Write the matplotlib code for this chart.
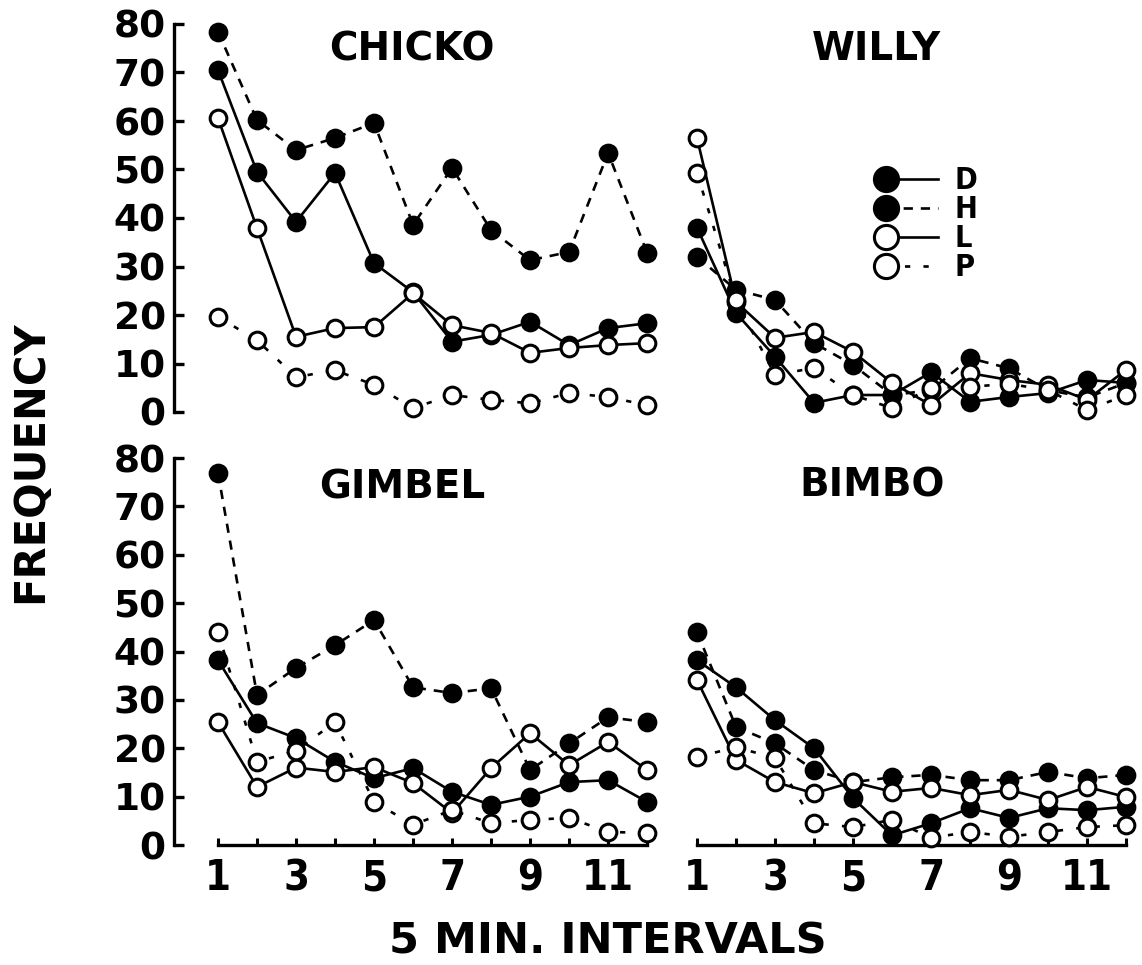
import matplotlib

matplotlib.use("Agg")
import matplotlib.pyplot as plt
import numpy as np
from matplotlib.legend_handler import HandlerLine2D

intervals = np.arange(1, 13)
x_tick_labels = ["1", "", "3", "", "5", "", "7", "", "9", "", "11", ""]
y_ticks = [0, 10, 20, 30, 40, 50, 60, 70, 80]

# values (frequency per 5 min interval)
chicko_D = [70.5, 49.5, 39.2, 49.3, 30.7, 24.7, 14.5, 15.9, 18.6, 13.8, 17.3, 18.3]
chicko_H = [78.4, 60.2, 54.0, 56.5, 59.6, 38.6, 50.3, 37.5, 31.3, 33.0, 53.4, 32.8]
chicko_L = [60.6, 37.9, 15.5, 17.3, 17.5, 24.5, 17.9, 16.3, 12.2, 13.2, 13.8, 14.2]
chicko_P = [19.6, 14.8, 7.2, 8.6, 5.6, 0.8, 3.5, 2.5, 1.8, 3.9, 3.1, 1.4]

willy_D = [38.0, 20.4, 11.4, 1.9, 3.5, 3.5, 8.2, 2.1, 3.1, 3.9, 6.6, 6.0]
willy_H = [32.0, 25.2, 23.1, 14.2, 9.7, 3.5, 4.5, 11.1, 9.0, 4.5, 3.0, 6.0]
willy_L = [56.5, 22.7, 15.3, 16.5, 12.4, 6.0, 1.4, 8.0, 6.6, 5.6, 2.5, 8.7]
willy_P = [49.3, 23.0, 7.6, 9.1, 3.5, 0.8, 5.0, 5.2, 5.8, 4.5, 0.4, 3.5]

gimbel_D = [38.2, 25.2, 22.1, 17.2, 13.8, 15.9, 11.0, 8.3, 10.0, 13.0, 13.4, 8.9]
gimbel_H = [76.9, 31.0, 36.6, 41.3, 46.5, 32.6, 31.4, 32.4, 15.5, 21.0, 26.4, 25.4]
gimbel_L = [25.4, 12.0, 16.0, 15.1, 16.1, 12.8, 6.6, 15.9, 23.1, 16.5, 21.3, 15.5]
gimbel_P = [44.0, 17.2, 19.5, 25.4, 8.9, 4.2, 7.2, 4.5, 5.2, 5.6, 2.7, 2.5]

bimbo_D = [38.2, 32.6, 25.8, 20.0, 9.7, 2.0, 4.5, 7.6, 5.6, 7.6, 7.2, 7.9]
bimbo_H = [44.0, 24.4, 21.0, 15.5, 13.0, 14.0, 14.5, 13.4, 13.4, 15.1, 13.8, 14.5]
bimbo_L = [34.1, 17.6, 13.0, 10.7, 13.0, 11.0, 11.8, 10.3, 11.4, 9.3, 12.0, 9.9]
bimbo_P = [18.2, 20.2, 18.0, 4.5, 3.7, 5.2, 1.5, 2.7, 1.7, 2.7, 3.7, 4.1]

panels = [
    ("CHICKO", chicko_D, chicko_H, chicko_L, chicko_P),
    ("WILLY", willy_D, willy_H, willy_L, willy_P),
    ("GIMBEL", gimbel_D, gimbel_H, gimbel_L, gimbel_P),
    ("BIMBO", bimbo_D, bimbo_H, bimbo_L, bimbo_P),
]
series_names = ["D", "H", "L", "P"]

# fill and dash style per condition
styles = {
    "D": dict(mfc="black", ls="-"),
    "H": dict(mfc="black", ls=(0, (3.5, 3))),
    "L": dict(mfc="white", ls="-"),
    "P": dict(mfc="white", ls=(0, (2, 5))),
}


class LeftMarkerHandler(HandlerLine2D):
    # marker only at the left end of the legend line, like the original key
    def create_artists(self, legend, orig_handle, xdescent, ydescent,
                       width, height, fontsize, trans):
        artists = super().create_artists(legend, orig_handle, xdescent,
                                         ydescent, width, height, fontsize,
                                         trans)
        for a in artists:
            a.set_markevery([0])
        return artists


W, H = 1142, 965
fig = plt.figure(figsize=(W / 100, H / 100), dpi=100)

# pixel boxes: (left, top, right, bottom)
boxes = [
    (174, 24, 660, 412),
    (653, 24, 1139, 412),
    (174, 458, 660, 845),
    (653, 458, 1139, 845),
]
title_pos = [(0.49, 0.935), (0.46, 0.935), (0.47, 0.925), (0.45, 0.93)]
cond_font = dict(fontfamily="DejaVu Sans", fontstretch="condensed",
                 fontweight="bold")

axes = []
for i, (name, d, h, l, p) in enumerate(panels):
    x0, y0, x1, y1 = boxes[i]
    ax = fig.add_axes([x0 / W, 1 - y1 / H, (x1 - x0) / W, (y1 - y0) / H])
    axes.append(ax)
    for key, vals in zip(series_names, (d, h, l, p)):
        st = styles[key]
        ax.plot(intervals, vals, color="black", lw=1.9, ls=st["ls"],
                marker="o", ms=12, mfc=st["mfc"], mec="black", mew=2.2,
                clip_on=False, label=key, zorder=3)

    ax.set_xlim(-0.128, 12.33)
    ax.set_ylim(0, 80)
    for side in ["top", "right"]:
        ax.spines[side].set_visible(False)
    ax.text(*title_pos[i], name, transform=ax.transAxes, ha="center",
            va="center", fontsize=28, fontweight="bold")

    left_col = i in (0, 2)
    bottom_row = i in (2, 3)

    if left_col:
        ax.spines["left"].set_linewidth(2.4)
        ax.spines["left"].set_bounds(0, 80)
        ax.set_yticks(y_ticks)
        ax.tick_params(axis="y", direction="in", length=7, width=2.4,
                       pad=6, labelsize=27)
        for lab in ax.get_yticklabels():
            lab.set_fontweight("bold")
    else:
        ax.spines["left"].set_visible(False)
        ax.set_yticks([])

    if bottom_row:
        ax.spines["bottom"].set_linewidth(2.4)
        ax.spines["bottom"].set_bounds(1, 12)
        ax.set_xticks(intervals)
        ax.set_xticklabels(x_tick_labels, **cond_font)
        ax.tick_params(axis="x", direction="in", length=5, width=2.2,
                       pad=9, labelsize=30)
    else:
        ax.spines["bottom"].set_visible(False)
        ax.set_xticks([])

    ax.patch.set_alpha(0)

leg = axes[1].legend(
    loc="upper left", bbox_to_anchor=(0.461, 0.633), frameon=False,
    fontsize=22, handlelength=2.3, handletextpad=0.25, labelspacing=0.0,
    borderpad=0, borderaxespad=0, markerscale=1.45,
    handler_map={matplotlib.lines.Line2D: LeftMarkerHandler(numpoints=2)},
)
for t in leg.get_texts():
    t.set_fontfamily("DejaVu Sans")
    t.set_fontstretch("condensed")
    t.set_fontweight("bold")

fig.text(30 / W, 1 - 462 / H, "FREQUENCY", rotation=90, ha="center",
         va="center", fontsize=30, fontweight="bold")
fig.text(608 / W, 1 - 942 / H, "5 MIN. INTERVALS", ha="center",
         va="center", fontsize=31, fontweight="bold")

fig.savefig("out.png", dpi=100)
